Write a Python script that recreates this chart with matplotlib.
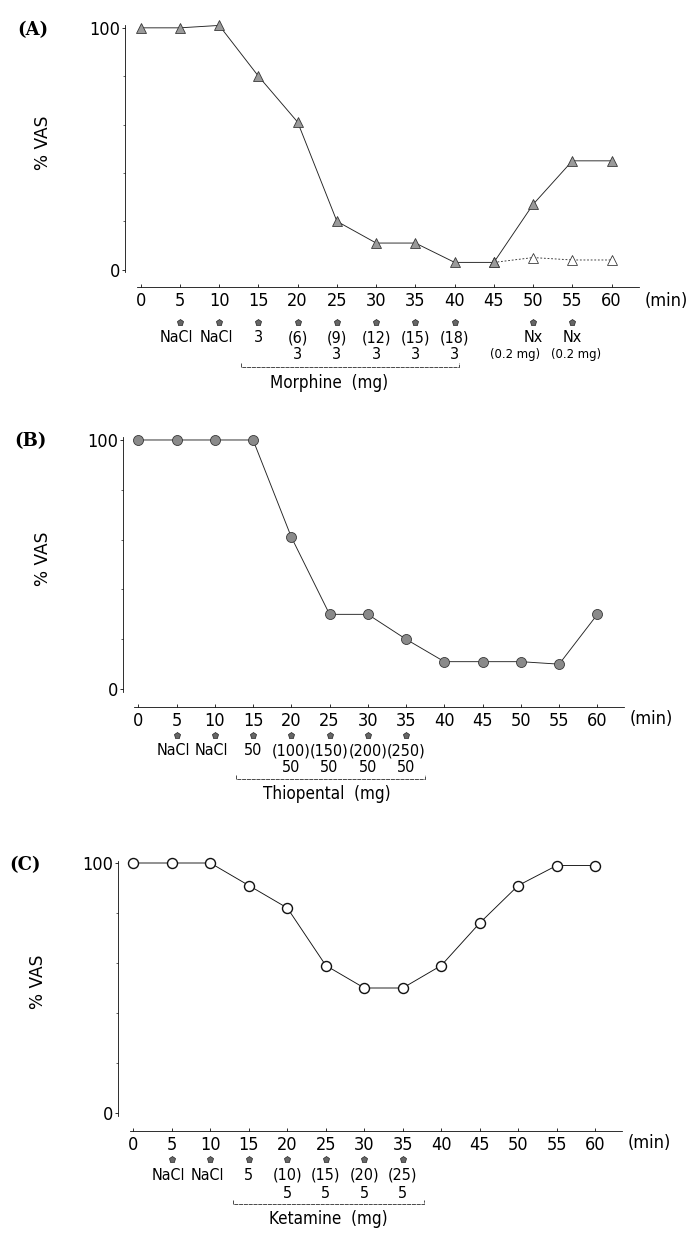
import matplotlib
matplotlib.use('Agg')
import matplotlib.pyplot as plt
from matplotlib.transforms import offset_copy

# Time axis (min)
minutes = [0, 5, 10, 15, 20, 25, 30, 35, 40, 45, 50, 55, 60]
tick_labels = [str(m) for m in minutes]

# (A) Morphine
morphine_vas = [100, 100, 101, 80, 61, 20, 11, 11, 3, 3, 27, 45, 45]
morphine_ctrl_t = [45, 50, 55, 60]
morphine_ctrl_vas = [3, 5, 4, 4]
morphine_arrows = [5, 10, 15, 20, 25, 30, 35, 40, 50, 55]
morphine_row1 = ['NaCl', 'NaCl', '3', '(6)', '(9)', '(12)', '(15)', '(18)', 'Nx', 'Nx']
morphine_row2_t = [20, 25, 30, 35, 40, 50, 55]
morphine_row2 = ['3', '3', '3', '3', '3', '(0.2 mg)', '(0.2 mg)']

# (B) Thiopental
thiopental_vas = [100, 100, 100, 100, 61, 30, 30, 20, 11, 11, 11, 10, 30]
thiopental_arrows = [5, 10, 15, 20, 25, 30, 35]
thiopental_row1 = ['NaCl', 'NaCl', '50', '(100)', '(150)', '(200)', '(250)']
thiopental_row2_t = [20, 25, 30, 35]
thiopental_row2 = ['50', '50', '50', '50']

# (C) Ketamine
ketamine_vas = [100, 100, 100, 91, 82, 59, 50, 50, 59, 76, 91, 99, 99]
ketamine_arrows = [5, 10, 15, 20, 25, 30, 35]
ketamine_row1 = ['NaCl', 'NaCl', '5', '(10)', '(15)', '(20)', '(25)']
ketamine_row2_t = [20, 25, 30, 35]
ketamine_row2 = ['5', '5', '5', '5']

NARROW = dict(family='DejaVu Sans', stretch='condensed')
W, H = 687, 1259
fig = plt.figure(figsize=(W / 72, H / 72), dpi=72)

XAX = -7  # y position of detached time axis


def make_axes(left, right, top, bottom):
    return fig.add_axes([left / W, 1 - bottom / H, (right - left) / W, (bottom - top) / H])


def draw_panel(ax, letter, letter_xy, arrows, row1, row2_t, row2, bracket, drug, name_x, offs):
    ax.set_xlim(-2, 64)
    ax.set_ylim(-8, 102)
    for s in ['top', 'right']:
        ax.spines[s].set_visible(False)
    ax.spines['left'].set_bounds(-1, 101)
    ax.spines['left'].set_linewidth(0.8)
    ax.spines['bottom'].set_position(('data', XAX))
    ax.spines['bottom'].set_bounds(-0.5, 63.5)
    ax.spines['bottom'].set_linewidth(0.8)
    ax.spines['bottom'].set_linestyle((0, (6, 1)))

    ax.set_xticks(minutes)
    ax.set_xticklabels(tick_labels, fontsize=18, **NARROW)
    ax.tick_params(axis='x', direction='in', length=3, width=0.8, pad=5)
    ax.set_yticks([0, 100])
    ax.set_yticklabels(['0', '100'], fontsize=18, **NARROW)
    ax.set_yticks([20, 40, 60, 80], minor=True)
    ax.tick_params(axis='y', which='major', length=3, width=0.8, pad=2)
    ax.tick_params(axis='y', which='minor', length=2, width=0.6)

    ax.set_ylabel('% VAS', fontsize=17, family='DejaVu Sans')
    ax.yaxis.set_label_coords(-0.14, 0.55)

    fig.text(letter_xy[0] / W, 1 - letter_xy[1] / H, letter, fontsize=18,
             family='DejaVu Serif', fontweight='bold', ha='center', va='center')
    ax.annotate('(min)', xy=(67, XAX), xytext=(0, -offs[0] + 1), textcoords='offset points',
                ha='center', va='center', fontsize=18, annotation_clip=False, **NARROW)

    # injection arrows
    tr = offset_copy(ax.transData, fig=fig, y=-offs[1], units='points')
    ax.plot(arrows, [XAX] * len(arrows), linestyle='none', marker='p', markersize=7,
            markerfacecolor='#666666', markeredgecolor='#111111', markeredgewidth=0.6,
            transform=tr, clip_on=False)

    for x, t in zip(arrows, row1):
        dx = -0.4 if t == 'NaCl' else 0
        ax.annotate(t, xy=(x + dx, XAX), xytext=(0, -offs[2]), textcoords='offset points',
                    ha='center', va='center', fontsize=16, annotation_clip=False, **NARROW)
    for x, t in zip(row2_t, row2):
        fs, dx = 16, 0
        if 'mg' in t:
            # the two naloxone doses sit side by side, nudged apart
            fs, dx = 13, (-2.3 if x == 50 else 0.5)
        ax.annotate(t, xy=(x + dx, XAX), xytext=(0, -offs[3]), textcoords='offset points',
                    ha='center', va='center', fontsize=fs, annotation_clip=False, **NARROW)

    trb = offset_copy(ax.transData, fig=fig, y=-offs[4], units='points')
    x0, x1 = bracket
    ax.plot([x0, x0, x1, x1], [XAX + 1.6, XAX, XAX, XAX + 1.6], color='#222222', lw=0.8,
            linestyle=(0, (5, 1)), transform=trb, clip_on=False)
    ax.annotate(drug, xy=(name_x, XAX), xytext=(0, -offs[5]), textcoords='offset points',
                ha='center', va='center', fontsize=17, annotation_clip=False, **NARROW)


# (A)
axA = make_axes(125, 643, 23, 289)
axA.plot(minutes, morphine_vas, color='#222222', lw=0.9, marker='^', markersize=10,
         markerfacecolor='#9a9a9a', markeredgecolor='#333333', markeredgewidth=0.8,
         clip_on=False, zorder=3)
axA.plot(morphine_ctrl_t, morphine_ctrl_vas, color='#333333', lw=0.9, linestyle=(0, (2, 2)),
         marker='^', markersize=10, markerfacecolor='white', markeredgecolor='#333333',
         markeredgewidth=0.8, clip_on=False, zorder=2)
draw_panel(axA, '(A)', (33, 30), morphine_arrows, morphine_row1, morphine_row2_t, morphine_row2,
           (12.8, 40.6), 'Morphine  (mg)', 24.0, [15, 35, 51, 68, 80, 96])

# (B)
axB = make_axes(123, 628, 435, 709)
axB.plot(minutes, thiopental_vas, color='#222222', lw=0.9, marker='o', markersize=10,
         markerfacecolor='#8a8a8a', markeredgecolor='#333333', markeredgewidth=0.8,
         clip_on=False, zorder=3)
draw_panel(axB, '(B)', (30, 441), thiopental_arrows, thiopental_row1, thiopental_row2_t,
           thiopental_row2, (12.8, 37.5), 'Thiopental  (mg)', 24.6, [13, 28, 44, 61, 72, 87])

# (C)
axC = make_axes(118, 626, 858, 1133)
axC.plot(minutes, ketamine_vas, color='#111111', lw=0.9, marker='o', markersize=10,
         markerfacecolor='white', markeredgecolor='#111111', markeredgewidth=1.4,
         clip_on=False, zorder=3)
draw_panel(axC, '(C)', (25, 865), ketamine_arrows, ketamine_row1, ketamine_row2_t,
           ketamine_row2, (12.9, 37.7), 'Ketamine  (mg)', 25.3, [13, 28, 45, 63, 73, 89])

fig.savefig('out.png', dpi=72)
